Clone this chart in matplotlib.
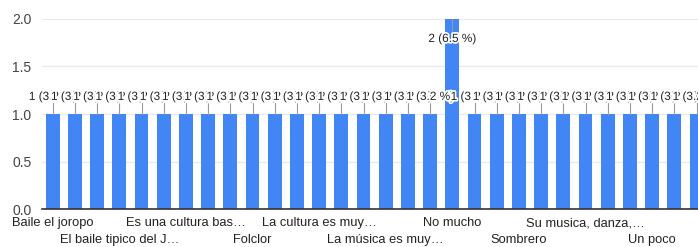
import matplotlib

matplotlib.use("Agg")
import matplotlib.pyplot as plt
import matplotlib.patheffects as pe
import numpy as np

# 30 answers, sorted alphabetically; only every third name is shown on the axis
CATEGORIES = [
    "Baile el joropo", "", "",
    "El baile tipico del J…", "", "",
    "Es una cultura bas…", "", "",
    "Folclor", "", "",
    "La cultura es muy…", "", "",
    "La música es muy…", "", "",
    "No mucho", "", "",
    "Sombrero", "", "",
    "Su musica, danza,…", "", "",
    "Un poco", "", "",
]
COUNTS = [1] * 18 + [2] + [1] * 11
TOTAL = 31
Y_TICKS = [0.0, 0.5, 1.0, 1.5, 2.0]

BAR_COLOR = "#4285F4"
TEXT_COLOR = "#222222"
TICK_COLOR = "#444444"
GRID_COLOR = "#EBEBEB"

plt.rcParams["font.family"] = ["Liberation Sans", "DejaVu Sans"]

W, H = 698, 247
fig = plt.figure(figsize=(W / 100, H / 100), dpi=100)
ax = fig.add_axes([42 / W, (H - 209) / H, (W - 42) / W, (209 - 19) / H])

x = np.arange(len(COUNTS))
ax.bar(x, COUNTS, width=0.63, color=BAR_COLOR, zorder=2)

pitch = 22.2
x_left = -(52.7 - 42) / pitch
x_right = (698 - 52.7) / pitch
ax.set_xlim(x_left, x_right)
ax.set_ylim(0, 2.0)

ax.set_yticks(Y_TICKS)
ax.set_yticklabels([f"{v:.1f}" for v in Y_TICKS])
ax.tick_params(axis="y", length=0, pad=7.5, labelsize=10, labelcolor=TICK_COLOR)
ax.tick_params(axis="x", length=0, labelbottom=False)
ax.grid(True, axis="y", color=GRID_COLOR, linewidth=1.0, zorder=0)
ax.set_axisbelow(True)
for name, spine in ax.spines.items():
    spine.set_visible(name == "bottom")
ax.spines["bottom"].set_color("#333333")
ax.spines["bottom"].set_linewidth(1.2)
ax.spines["bottom"].set_zorder(3)

# staggered category labels
shown = [i for i, c in enumerate(CATEGORIES) if c]
for k, i in enumerate(shown):
    y_px = 223 if k % 2 == 0 else 240
    ax.text(i, -(y_px - 209) / 95, CATEGORIES[i], ha="center", va="center",
            fontsize=9.3, color=TEXT_COLOR, clip_on=False)

# value labels with leader lines
halo = [pe.withStroke(linewidth=2.5, foreground="white")]
for i, c in enumerate(COUNTS):
    pct = c / TOTAL * 100
    label = f"{c} ({pct:.1f} %)"
    if c == 1:
        ax.plot([i, i], [1.0, 1.12], color="#999999", linewidth=0.8, zorder=3)
        ax.text(i, 1.18, label, ha="center", va="center", fontsize=8.5,
                color=TEXT_COLOR, path_effects=halo, zorder=4 + i)
    else:
        ax.plot([i, i], [2.0, 1.87], color="#999999", linewidth=0.8, zorder=3)
        ax.text(i, 1.79, label, ha="center", va="center", fontsize=8.5,
                color=TEXT_COLOR, path_effects=halo, zorder=4 + i)

fig.savefig("out.png", dpi=100, facecolor="white")
